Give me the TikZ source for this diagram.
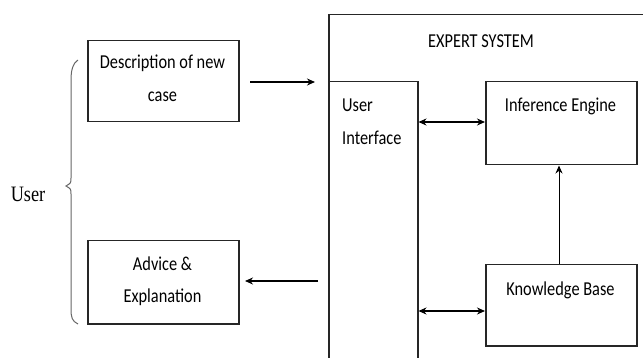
\documentclass[tikz,border=0pt]{standalone}
\usepackage{graphicx}
\usepackage{fontspec}
\setmainfont{Carlito}
\newfontfamily\userfont{Liberation Serif}
\usetikzlibrary{arrows.meta}
\newcommand\sq[1]{\scalebox{0.83}[1]{#1}}
\tikzset{
  box/.style={draw=black!85, line width=1.5pt, inner sep=0pt, fill=white},
  lbl/.style={inner sep=0pt, font=\fontsize{19.7}{33}\selectfont},
  arr/.style={line width=1.5pt, -{Stealth[length=8pt,width=7pt]}},
  thinarr/.style={line width=1pt, -{Stealth[length=8pt,width=7pt]}},
  darr/.style={line width=1.5pt, {Stealth[length=8pt,width=7pt]}-{Stealth[length=8pt,width=7pt]}}
}
\begin{document}
\begin{tikzpicture}[x=1pt,y=-1pt]
\useasboundingbox (0,0) rectangle (643,358);
\clip (0,0) rectangle (643,358);
% outer expert system box
\node[box, minimum width=340, minimum height=360, anchor=north west] (es) at (328,14) {};
\node[lbl, anchor=base] (estitle) at (481,48) {\sq{EXPERT SYSTEM}};
% user interface
\node[box, minimum width=89, minimum height=300, anchor=north west] (ui) at (328,81) {};
\node[lbl, anchor=base west] (uit1) at (342,112) {\sq{User}};
\node[lbl, anchor=base west] (uit2) at (342,145) {\sq{Interface}};
% inference engine
\node[box, minimum width=151, minimum height=83, anchor=north west] (ie) at (485,81) {};
\node[lbl, anchor=base] (iet) at (560.5,112) {\sq{Inference Engine}};
% knowledge base
\node[box, minimum width=151, minimum height=81, anchor=north west] (kb) at (485,264) {};
\node[lbl, anchor=base] (kbt) at (560.5,295) {\sq{Knowledge Base}};
% left boxes
\node[box, minimum width=151, minimum height=81, anchor=north west] (desc) at (87,40) {};
\node[lbl, anchor=base] (desc1) at (162.5,69) {\sq{Description of new}};
\node[lbl, anchor=base] (desc2) at (162.5,102) {\sq{case}};
\node[box, minimum width=151, minimum height=83, anchor=north west] (adv) at (87,240) {};
\node[lbl, anchor=base] (adv1) at (162.5,271) {\sq{Advice \&}};
\node[lbl, anchor=base] (adv2) at (162.5,303) {\sq{Explanation}};
% user
\node[inner sep=0pt, anchor=base, font=\userfont\fontsize{22}{26}\selectfont] (user) at (28,202) {\sq{User}};
% brace
\draw[gray!80!black, line width=1pt] (78,60) .. controls (73,63) and (71,70) .. (71,80)
  -- (71,178) .. controls (71,183) .. (66,186) .. controls (71,189) .. (71,194)
  -- (71,308) .. controls (71,318) and (72,321) .. (78,324);
% arrows
\coordinate (a1s) at (250,82);
\coordinate (a1e) at (315,82);
\draw[arr] (a1s) -- (a1e);
\coordinate (a2s) at (318,281);
\coordinate (a2e) at (245,281);
\draw[arr] (a2s) -- (a2e);
\draw[darr] (ui.east |- 0,122) -- (ie.west |- 0,122);
\draw[darr] (ui.east |- 0,311) -- (kb.west |- 0,311);
\draw[thinarr] (kb.north -| 559,0) -- (ie.south -| 559,0);
\end{tikzpicture}
\end{document}
